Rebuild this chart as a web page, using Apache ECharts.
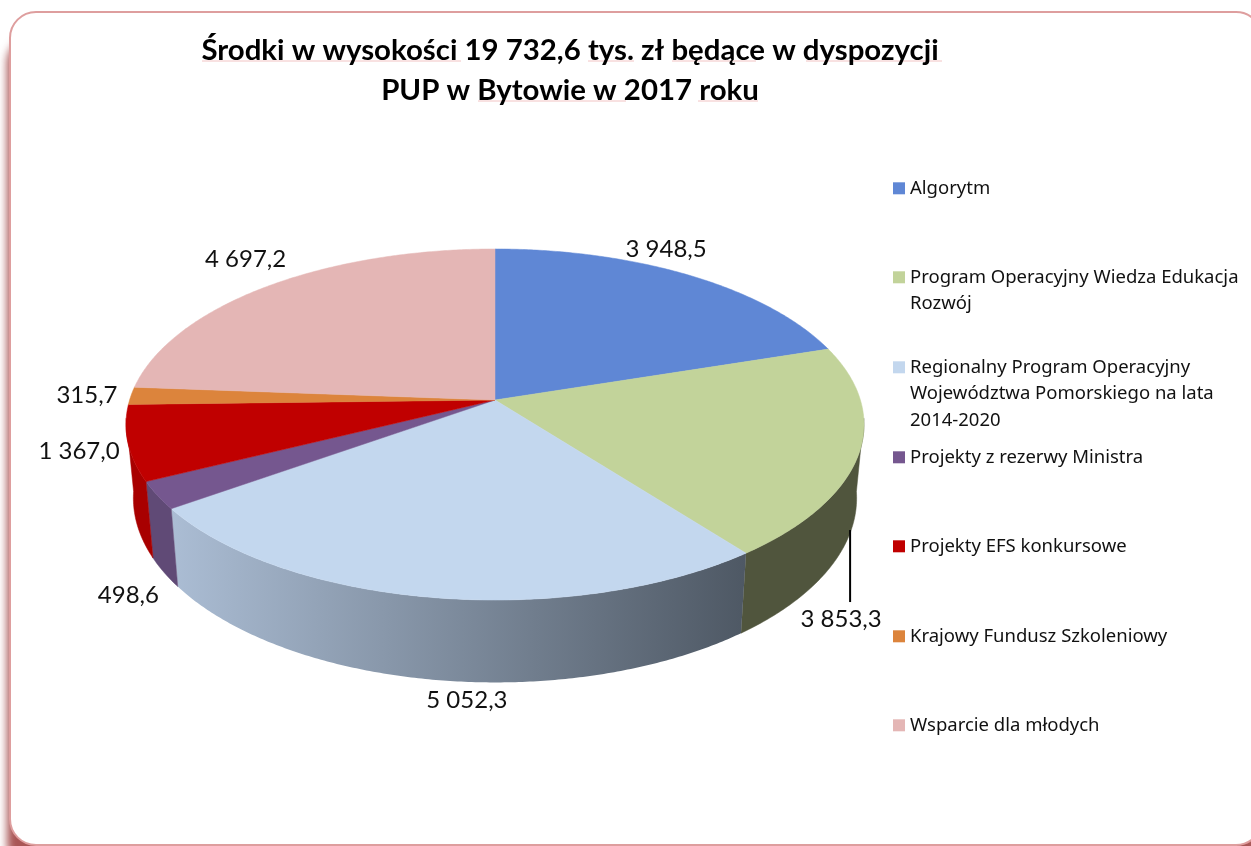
<!DOCTYPE html>
<html>
<head>
<meta charset="utf-8">
<style>
  html, body { margin: 0; padding: 0; background: #fff; }
  #chart { width: 1251px; height: 846px; }
</style>
</head>
<body>
<div id="chart"></div>
<script src="https://cdn.jsdelivr.net/npm/echarts@6/dist/echarts.min.js"></script>
<script>
// dane
const categories = [
  'Algorytm',
  'Program Operacyjny Wiedza Edukacja Rozwój',
  'Regionalny Program Operacyjny Województwa Pomorskiego na lata 2014-2020',
  'Projekty z rezerwy Ministra',
  'Projekty EFS konkursowe',
  'Krajowy Fundusz Szkoleniowy',
  'Wsparcie dla młodych'
];
const values = [3948.5, 3853.3, 5052.3, 498.6, 1367.0, 315.7, 4697.2];
const legendLines = [
  ['Algorytm'],
  ['Program Operacyjny Wiedza Edukacja', 'Rozwój'],
  ['Regionalny Program Operacyjny', 'Województwa Pomorskiego na lata', '2014-2020'],
  ['Projekty z rezerwy Ministra'],
  ['Projekty EFS konkursowe'],
  ['Krajowy Fundusz Szkoleniowy'],
  ['Wsparcie dla młodych']
];

// kolory
const topColors = ['#5F87D5', '#C2D39A', '#C3D7EE', '#75578F', '#C00000', '#DC843C', '#E4B6B5'];
const wallColors = [
  '#4A6AA8',
  '#50553D',
  { type: 'linear', x: 0, y: 0, x2: 1, y2: 0, colorStops: [
    { offset: 0, color: '#ABBDD4' }, { offset: 1, color: '#4E5864' }
  ] },
  '#604A76',
  '#A80000',
  '#B06A30',
  '#B59090'
];

// uklad: rzut perspektywiczny kola
const CX = 495, CY = 400;
const RX = 365.4, RY = 172.1, PERSP = 0.1396;
const BOTTOM_Y = 472.4, BOTTOM_SX = 0.98, BOTTOM_SY = 1.05;
const WALL_FROM = 96, WALL_TO = 264; // widoczna czesc scianki (stopnie)
const labelNudge = [[-22, -26], [-18, 166], [34, 103], [-29, 99.5], [-49, 8], [-44, 0], [-24, -26]];
const legendTops = [170, 259, 349, 439, 528, 618, 707];
const LEGEND_LINE = 26.6;

// podkreslenia z korekty pisowni w tytule: [x1, x2, y]
const spellMarks = [
  [202, 461, 61], [588, 634, 61], [672, 756, 61], [806, 942, 61],
  [478, 626, 101], [698, 758, 101]
];

const total = values.reduce((a, b) => a + b, 0);
const starts = [];
values.reduce((sum, v, i) => { starts[i] = sum; return sum + v; }, 0);

function project(deg) {
  const t = deg * Math.PI / 180;
  const u = Math.sin(t), v = -Math.cos(t);
  const w = 1 - PERSP * v;
  return [RX * u / w, RY * v / w];
}
function topPoint(deg) {
  const p = project(deg);
  return [CX + p[0], CY + p[1]];
}
function bottomPoint(deg) {
  const p = project(deg);
  return [CX + p[0] * BOTTOM_SX, BOTTOM_Y + p[1] * BOTTOM_SY];
}
function arc(fn, from, to) {
  const pts = [];
  const n = Math.max(2, Math.ceil((to - from) * 2));
  for (let i = 0; i <= n; i++) pts.push(fn(from + (to - from) * i / n));
  return pts;
}
function formatValue(v) {
  const parts = v.toFixed(1).split('.');
  return parts[0].replace(/\B(?=(\d{3})+$)/g, ' ') + ',' + parts[1];
}

function renderSlice(i) {
  return function () {
    const a = starts[i] / total * 360;
    const b = (starts[i] + values[i]) / total * 360;
    const children = [];
    const from = Math.max(a, WALL_FROM), to = Math.min(b, WALL_TO);
    if (from < to) {
      const wall = arc(topPoint, from, to).concat(arc(bottomPoint, from, to).reverse());
      const flat = typeof wallColors[i] === 'string';
      children.push({
        type: 'polygon',
        shape: { points: wall },
        style: { fill: wallColors[i], stroke: flat ? wallColors[i] : null, lineWidth: flat ? 0.5 : 0 }
      });
    }
    children.push({
      type: 'polygon',
      shape: { points: [[CX, CY]].concat(arc(topPoint, a, b)) },
      style: { fill: topColors[i], stroke: topColors[i], lineWidth: 0.5 }
    });
    const mid = topPoint((a + b) / 2);
    const lx = mid[0] + labelNudge[i][0], ly = mid[1] + labelNudge[i][1];
    // linia odniesienia tylko przy etykiecie odsunietej od wycinka
    if (i === 1) {
      children.push({
        type: 'line',
        shape: { x1: lx + 9, y1: ly - 89, x2: lx + 9, y2: ly - 17 },
        style: { stroke: '#000', lineWidth: 2 }
      });
    }
    children.push({
      type: 'text',
      style: {
        x: lx, y: ly, text: formatValue(values[i]),
        font: '24px Lato', fill: '#111',
        align: 'center', verticalAlign: 'middle'
      }
    });
    return { type: 'group', children: children };
  };
}

// ikona legendy: kwadrat przy pierwszym wierszu, reszta przezroczysta
function legendIcon(lines) {
  const h = lines * LEGEND_LINE, y = LEGEND_LINE / 2 - 6;
  return 'path://M0 0L0 0M0 ' + h + 'L0 ' + h + 'M0 ' + y + 'H12V' + (y + 12) + 'H0Z';
}

const option = {
  animation: false,
  backgroundColor: '#fff',
  title: {
    text: 'Środki w wysokości 19 732,6 tys. zł będące w dyspozycji\nPUP w Bytowie w 2017 roku',
    left: 565, top: 26, textAlign: 'center',
    textStyle: { fontFamily: 'Lato', fontSize: 29.4, fontWeight: 'bold', color: '#000', lineHeight: 40 }
  },
  legend: categories.map((name, i) => ({
    data: [name],
    left: 888, top: legendTops[i],
    itemWidth: 12, itemHeight: legendLines[i].length * LEGEND_LINE,
    icon: legendIcon(legendLines[i].length),
    selectedMode: false,
    formatter: () => legendLines[i].join('\n'),
    textStyle: { fontFamily: 'Noto Sans', fontSize: 18.5, color: '#111', lineHeight: LEGEND_LINE }
  })),
  graphic: [
    // cien osobno, zeby obrys nie rzucal go do srodka ramki
    {
      type: 'rect', z: -2,
      shape: { x: 10, y: 12, width: 1252, height: 833, r: 26 },
      style: {
        fill: '#fff',
        shadowColor: 'rgba(140,30,30,0.75)', shadowBlur: 8, shadowOffsetX: -3, shadowOffsetY: 25
      }
    },
    {
      type: 'rect', z: -1,
      shape: { x: 10, y: 12, width: 1252, height: 833, r: 26 },
      style: { fill: null, stroke: '#DE9E9E', lineWidth: 2 }
    }
  ].concat(spellMarks.map(m => ({
    type: 'line', z: 1, silent: true,
    shape: { x1: m[0], y1: m[2], x2: m[1], y2: m[2] },
    style: { stroke: '#F2C4C4', lineWidth: 1 }
  }))),
  series: categories.map((name, i) => ({
    type: 'custom',
    name: name,
    coordinateSystem: 'none',
    silent: true,
    itemStyle: { color: topColors[i] },
    data: [values[i]],
    renderItem: renderSlice(i)
  }))
};

const chart = echarts.init(document.getElementById('chart'));
chart.setOption(option);
</script>
</body>
</html>
